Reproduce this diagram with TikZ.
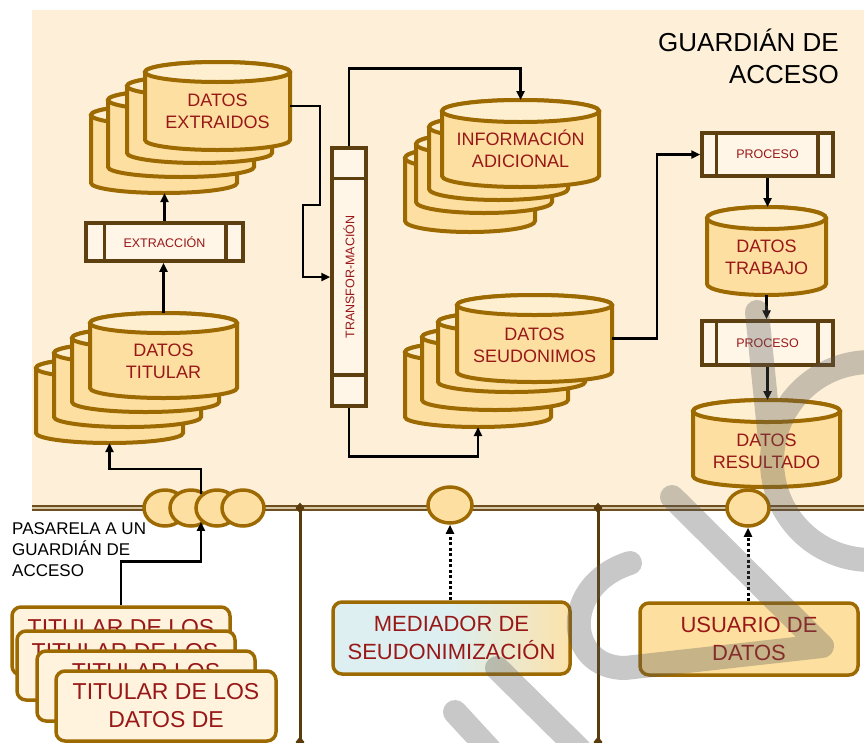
\documentclass[tikz,border=0pt]{standalone}
\usepackage{fontspec}
\setmainfont{Liberation Sans}
\usetikzlibrary{arrows.meta,shapes.geometric,calc}
\definecolor{bgcream}{HTML}{FEF0D8}
\definecolor{cylfill}{HTML}{FDDFA1}
\definecolor{cyltop}{HTML}{FEEFD0}
\definecolor{cylbrown}{HTML}{9C6A00}
\definecolor{procbrown}{HTML}{5E4010}
\definecolor{procfill}{HTML}{FFF6E8}
\definecolor{txtred}{HTML}{981818}
\definecolor{titfill}{HTML}{FFF3DE}
\definecolor{usrfill}{HTML}{FDE0A0}
\definecolor{medblue}{HTML}{DDEFF0}
\definecolor{medorange}{HTML}{FCE2AA}
\definecolor{sepbrown}{HTML}{5A3C0C}
\definecolor{busbrown}{HTML}{6E5020}
\definecolor{buslight}{HTML}{D8C8A8}
\definecolor{wmgray}{HTML}{5A5A5A}
\newcommand\myfs[2]{\fontsize{#1}{#2}\selectfont}
\newcommand\mycyl[6]{%
  \pgfmathsetmacro\cylrx{(#4-#2)/2}%
  \pgfmathsetmacro\cylcx{(#2+#4)/2}%
  \pgfmathsetmacro\cylcy{(#3+#5)/2}%
  \pgfmathsetmacro\cylw{#4-#2}%
  \pgfmathsetmacro\cylh{#5-#3}%
  \filldraw[cylshape] (#2,#3+#6) -- (#2,#5-#6) arc[start angle=180,end angle=360,x radius=\cylrx pt,y radius=#6pt] -- (#4,#3+#6) arc[start angle=0,end angle=180,x radius=\cylrx pt,y radius=#6pt] -- cycle;
  \filldraw[cylshape,fill=cyltop] (\cylcx,#3+#6) ellipse[x radius=\cylrx pt,y radius=#6pt];
  \node[inner sep=0pt,outer sep=0pt,minimum width=\cylw pt,minimum height=\cylh pt] (#1) at (\cylcx,\cylcy) {};
}
\begin{document}
\begin{tikzpicture}[x=1pt,y=-1pt,
  cylshape/.style={draw=cylbrown,fill=cylfill,line width=4pt},
  cyltext/.style={text=txtred,align=center,font=\myfs{18}{22},inner sep=0pt},
  procbox/.style={draw=procbrown,fill=procfill,line width=3.5pt,inner sep=0pt,text=txtred,font=\myfs{12.5}{15}},
  procline/.style={draw=procbrown,line width=3.5pt},
  conn/.style={draw=black,line width=2.6pt,-{Triangle[length=9pt,width=8pt]}},
  dotconn/.style={draw=black,line width=3pt,dash pattern=on 3pt off 2.5pt,-{Triangle[length=9pt,width=8pt]}},
  gate/.style={ellipse,draw=cylbrown,fill=cylfill,line width=3.5pt,inner sep=0pt,minimum width=42pt,minimum height=36pt},
  titbox/.style={draw=cylbrown,fill=titfill,line width=3.5pt,rounded corners=9pt,inner sep=0pt},
  tittext/.style={text=txtred,font=\myfs{23}{28},inner sep=0pt,align=center},
  roundbox/.style={draw=cylbrown,line width=3.5pt,rounded corners=9pt,inner sep=0pt,text=txtred,font=\myfs{22}{28},align=center},
  sepdia/.style={diamond,fill=sepbrown,inner sep=0pt,minimum width=9pt,minimum height=11pt},
  blacktext/.style={text=black,inner sep=0pt}]
\useasboundingbox (0,0) rectangle (864,742);
\fill[white] (0,0) rectangle (864,742);
\fill[bgcream] (32,10) rectangle (864,508);

% labels
\node[blacktext,anchor=north east,align=right,font=\myfs{26}{32}] (guard) at (839,29) {GUARDIÁN DE\\ACCESO};
\node[blacktext,anchor=north west,align=left,font=\myfs{17}{21}] (pasarela) at (12,522) {PASARELA A UN\\GUARDIÁN DE\\ACCESO};

% bus and separators
\coordinate (busL) at (32,508);
\coordinate (busR) at (864,508);
\draw[line width=6pt,busbrown] (busL) -- (busR);
\draw[line width=1.6pt,buslight] (busL) -- (busR);
\node[sepdia] (d1t) at (300,508) {};
\node[sepdia] (d1b) at (300,742) {};
\node[sepdia] (d2t) at (598,508) {};
\node[sepdia] (d2b) at (598,742) {};
\draw[sepbrown,line width=3pt] (d1t.center) -- (d1b.center);
\draw[sepbrown,line width=3pt] (d2t.center) -- (d2b.center);

% DATOS EXTRAIDOS
\mycyl{e4}{91}{105}{237}{193}{10}
\mycyl{e3}{108}{90}{254}{177}{10}
\mycyl{e2}{127}{76}{272}{163}{10}
\mycyl{e1}{145}{62}{290}{150}{10}
\node[cyltext] (e1t) at (217.5,111) {DATOS\\EXTRAIDOS};

% DATOS TITULAR
\mycyl{t4}{36}{358}{183}{443}{10}
\mycyl{t3}{54}{343}{201}{427}{10}
\mycyl{t2}{72}{328}{219}{412}{10}
\mycyl{t1}{90}{313}{237}{398}{10}
\node[cyltext] (t1t) at (163.5,361) {DATOS\\TITULAR};

% INFORMACION ADICIONAL
\mycyl{i4}{405}{147}{535}{232}{11}
\mycyl{i3}{416}{133}{552}{213}{11}
\mycyl{i2}{429}{116}{568}{200}{11}
\mycyl{i1}{442}{100}{599}{187}{11}
\node[cyltext] (i1t) at (520.5,149) {INFORMACIÓN\\ADICIONAL};

% DATOS SEUDONIMOS
\mycyl{s4}{405}{342}{551}{427}{10}
\mycyl{s3}{422}{327}{568}{410}{10}
\mycyl{s2}{438}{312}{585}{392}{10}
\mycyl{s1}{457}{295}{612}{382}{10}
\node[cyltext] (s1t) at (534.5,345) {DATOS\\SEUDONIMOS};

% DATOS TRABAJO / RESULTADO
\mycyl{tr}{707}{207}{826}{295}{11}
\node[cyltext] (trt) at (766.5,257) {DATOS\\TRABAJO};
\mycyl{rs}{693}{400}{840}{487}{11}
\node[cyltext] (rst) at (766.5,451) {DATOS\\RESULTADO};

% process boxes
\node[procbox,minimum width=157pt,minimum height=38pt] (ex) at (164.5,242) {EXTRACCIÓN};
\draw[procline] ([xshift=20pt]ex.north west) -- ([xshift=20pt]ex.south west);
\draw[procline] ([xshift=-19pt]ex.north east) -- ([xshift=-19pt]ex.south east);

\node[procbox,minimum width=131pt,minimum height=43pt] (p1) at (767.5,154.5) {PROCESO};
\draw[procline] ([xshift=16pt]p1.north west) -- ([xshift=16pt]p1.south west);
\draw[procline] ([xshift=-17pt]p1.north east) -- ([xshift=-17pt]p1.south east);

\node[procbox,minimum width=131pt,minimum height=44pt] (p2) at (767.5,343) {PROCESO};
\draw[procline] ([xshift=16pt]p2.north west) -- ([xshift=16pt]p2.south west);
\draw[procline] ([xshift=-17pt]p2.north east) -- ([xshift=-17pt]p2.south east);

\node[procbox,minimum width=34pt,minimum height=258pt] (trans) at (349,277) {};
\draw[procline] ([yshift=-32pt]trans.north west) -- ([yshift=-32pt]trans.north east);
\draw[procline] ([yshift=33pt]trans.south west) -- ([yshift=33pt]trans.south east);
\node[rotate=90,text=txtred,font=\myfs{12.5}{15},inner sep=0pt] (transt) at (349,277) {TRANSFOR-MACIÓN};

% gateways
\node[gate] (g1) at (165,508) {};
\node[gate] (g2) at (191,508) {};
\node[gate] (g3) at (217,508) {};
\node[gate] (g4) at (243,508) {};
\node[gate,minimum width=44pt] (gm) at (450,505) {};
\node[gate] (gr) at (748,508) {};

% titular boxes
\node[titbox,minimum width=218pt,minimum height=68pt] (tb1) at (121,641) {};
\node[tittext] (tb1t) at (121,628) {TITULAR DE LOS};
\node[titbox,minimum width=218pt,minimum height=69pt] (tb2) at (126,665.5) {};
\node[tittext] (tb2t) at (125,652) {TITULAR DE LOS};
\node[titbox,minimum width=218pt,minimum height=70pt] (tb3) at (146,686) {};
\node[tittext] (tb3t) at (146,672) {TITULAR LOS};
\node[titbox,minimum width=220pt,minimum height=70pt,text=txtred,font=\myfs{23}{28},align=center] (tb4) at (166,706) {TITULAR DE LOS\\DATOS DE};

% mediator / user
\node[roundbox,minimum width=237pt,minimum height=72pt,left color=medblue,right color=medorange,middle color=medblue] (med) at (451.5,638) {MEDIADOR DE\\SEUDONIMIZACIÓN};
\node[roundbox,fill=usrfill,minimum width=218pt,minimum height=72pt] (usr) at (749,639) {USUARIO DE\\DATOS};

% connectors
\draw[conn] (ex.north) -- (ex.north |- e4.south);
\draw[conn] (t1.north) -- (t1.north |- ex.south);
\draw[conn] (e1.east) -- ++(30,0) -- ++(0,99) -- ++(-17,0) |- (trans.west);
\draw[conn] (trans.north) -- ++(0,-78) -| (i1.north);
\draw[conn] (trans.south) -- ++(0,49) -| (s4.south);
\draw[conn] (s1.east) -- ++(45,0) |- (p1.west);
\draw[conn] (p1.south) -- (p1.south |- tr.north);
\draw[conn] (tr.south) -- (tr.south |- p2.north);
\draw[conn] (p2.south) -- (p2.south |- rs.north);
\draw[conn] (tb1.north) -- ++(0,-44) -| (g3.south west);
\draw[conn] (g3.north west) -- ++(0,-25) -| (t4.south);
\draw[dotconn] (gm.south |- med.north) -- (gm.south);
\draw[dotconn] (gr.south |- usr.north) -- (gr.south);

% watermark
\begin{scope}[draw=wmgray,opacity=0.33,line width=24pt,line cap=round,line join=round]
  \draw (455,712) -- (490,750);
  \draw (497,668) -- (580,750);
  \draw (672,497) -- (822,646) -- (625,668) .. controls (565,668) and (560,585) .. (630,563);
  \draw (757,312) -- (770,440) (871,362) .. controls (816,362) and (772,406) .. (772,461) .. controls (772,516) and (816,560) .. (871,560);
\end{scope}
\end{tikzpicture}
\end{document}
